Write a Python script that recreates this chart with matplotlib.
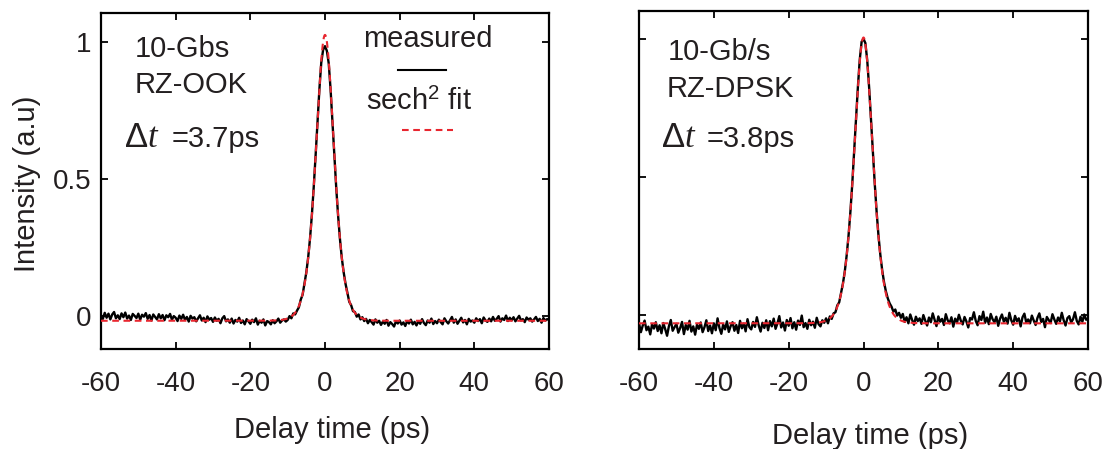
import numpy as np
import matplotlib
matplotlib.use("Agg")
import matplotlib.pyplot as plt
from matplotlib.lines import Line2D

plt.rcParams["font.family"] = ["Liberation Sans", "DejaVu Sans"]
plt.rcParams["mathtext.fontset"] = "custom"
plt.rcParams["mathtext.rm"] = "Liberation Sans"
plt.rcParams["mathtext.it"] = "Liberation Serif:italic"
plt.rcParams["mathtext.bf"] = "Liberation Sans:bold"
plt.rcParams["axes.unicode_minus"] = False

# ---------------------------------------------------------------- data
# autocorrelation traces sampled every 0.5 ps from -60 ps to 60 ps
delay_ps = np.arange(-60.0, 60.25, 0.5)

ook_measured = [
    0.004, -0.010, 0.012, -0.006, 0.009, -0.012, 0.006, 0.015, -0.008, 0.003,
    -0.011, 0.010, -0.004, 0.013, -0.009, 0.002, -0.014, 0.008, 0.001, -0.007,
    0.009, -0.013, 0.005, -0.002, 0.011, -0.010, 0.004, -0.016, 0.006, -0.003,
    -0.012, 0.007, -0.008, 0.004, -0.015, 0.003, -0.004, 0.008, -0.013, 0.000,
    -0.006, -0.018, 0.002, -0.010, 0.005, -0.014, -0.003, -0.020, 0.001, -0.009,
    -0.004, -0.019, -0.008, 0.003, -0.016, -0.006, -0.022, -0.001, -0.013, -0.007,
    -0.021, -0.005, -0.017, -0.010, -0.026, -0.008, 0.000, -0.019, -0.012, -0.024,
    -0.009, -0.027, -0.014, -0.020, -0.006, -0.025, -0.016, -0.030, -0.011, -0.019,
    -0.028, -0.013, -0.022, -0.008, -0.031, -0.017, -0.024, -0.012, -0.034, -0.018,
    -0.022, -0.030, -0.015, -0.026, -0.019, -0.009, -0.024, -0.016, -0.012, -0.020,
    -0.014, 0.000, -0.008, 0.010, 0.006, 0.020, 0.032, 0.060, 0.078, 0.118,
    0.160, 0.215, 0.285, 0.372, 0.475, 0.590, 0.712, 0.828, 0.925, 0.972,
    0.985, 0.968, 0.922, 0.826, 0.708, 0.586, 0.470, 0.368, 0.282, 0.212,
    0.160, 0.118, 0.084, 0.052, 0.040, 0.018, 0.015, -0.002, 0.006, -0.012,
    -0.004, -0.018, -0.010, -0.026, -0.014, -0.022, -0.031, -0.012, -0.024, -0.017,
    -0.032, -0.020, -0.028, -0.014, -0.035, -0.022, -0.029, -0.038, -0.019, -0.027,
    -0.016, -0.031, -0.023, -0.036, -0.018, -0.027, -0.013, -0.030, -0.021, -0.034,
    -0.019, -0.028, -0.011, -0.025, -0.033, -0.016, -0.024, -0.009, -0.029, -0.018,
    -0.026, -0.013, -0.022, -0.030, -0.008, -0.019, -0.027, -0.015, -0.003, -0.024,
    -0.012, -0.028, -0.017, -0.006, -0.023, -0.014, -0.030, -0.010, -0.020, -0.016,
    -0.024, -0.008, -0.018, -0.011, -0.026, -0.005, -0.016, -0.021, -0.009, -0.019,
    -0.003, -0.017, -0.010, 0.000, -0.020, -0.008, -0.014, 0.002, -0.018, -0.006,
    -0.015, -0.004, -0.019, -0.009, 0.001, -0.016, -0.011, -0.022, -0.005, -0.013,
    -0.008, -0.020, -0.012, -0.003, -0.018, -0.010, -0.024, -0.007, -0.016, -0.011,
    -0.014,
]

dpsk_measured = [
    -0.030, -0.062, -0.038, -0.020, -0.055, -0.042, -0.070, -0.033, -0.049, -0.026,
    -0.058, -0.037, -0.066, -0.029, -0.051, -0.075, -0.040, -0.018, -0.057, -0.044,
    -0.032, -0.064, -0.047, -0.025, -0.069, -0.036, -0.053, -0.021, -0.060, -0.041,
    -0.071, -0.035, -0.050, -0.027, -0.062, -0.044, -0.019, -0.058, -0.038, -0.066,
    -0.030, -0.055, -0.012, -0.047, -0.068, -0.034, -0.052, -0.023, -0.061, -0.040,
    -0.026, -0.057, -0.036, -0.065, -0.021, -0.048, -0.031, -0.059, -0.015, -0.044,
    -0.052, -0.025, -0.043, -0.008, -0.038, -0.060, -0.028, -0.047, -0.019, -0.055,
    -0.022, -0.041, -0.013, -0.050, -0.030, -0.004, -0.045, -0.027, -0.056, -0.018,
    -0.039, -0.011, -0.048, -0.026, -0.053, -0.020, -0.036, -0.002, -0.044, -0.029,
    -0.050, -0.017, -0.037, -0.024, -0.046, -0.010, -0.033, -0.041, -0.019, -0.028,
    -0.012, -0.030, -0.005, -0.014, 0.006, 0.010, 0.035, 0.046, 0.080, 0.114,
    0.158, 0.216, 0.287, 0.374, 0.476, 0.590, 0.710, 0.826, 0.925, 0.990,
    1.000, 0.985, 0.922, 0.825, 0.708, 0.590, 0.477, 0.375, 0.288, 0.218,
    0.162, 0.118, 0.085, 0.060, 0.042, 0.030, 0.012, 0.020, -0.002, 0.008,
    -0.010, 0.004, -0.025, -0.008, -0.030, 0.002, -0.018, -0.035, -0.006, -0.022,
    -0.012, -0.032, 0.000, -0.020, -0.038, -0.009, -0.026, 0.006, -0.017, -0.040,
    -0.005, -0.024, -0.014, -0.036, 0.003, -0.019, -0.030, -0.008, -0.042, -0.013,
    -0.027, 0.001, -0.020, -0.034, -0.007, -0.023, -0.045, -0.011, -0.016, 0.010,
    -0.021, -0.037, -0.004, -0.018, 0.012, -0.028, -0.009, -0.033, 0.004, -0.015,
    -0.026, -0.006, -0.039, -0.013, 0.002, -0.024, -0.010, -0.031, 0.008, -0.019,
    -0.035, -0.003, -0.022, -0.012, -0.041, -0.008, 0.005, -0.027, -0.016, -0.030,
    -0.002, -0.020, -0.036, -0.010, 0.006, -0.025, -0.014, -0.044, -0.007, -0.018,
    -0.029, 0.003, -0.016, -0.032, -0.009, -0.023, 0.008, -0.019, -0.038, -0.011,
    -0.004, -0.027, -0.015, 0.010, -0.021, -0.034, -0.006, -0.024, 0.002, -0.017,
    -0.012,
]

format_lines = [("10-Gbs", "RZ-OOK"), ("10-Gb/s", "RZ-DPSK")]
pulse_width_ps = [3.7, 3.8]          # deconvolved pulse width
fit_amplitude = [1.043, 1.035]
fit_offset = [-0.017, -0.030]

x_ticks = [-60, -40, -20, 0, 20, 40, 60]
y_ticks = [0, 0.5, 1]
y_tick_labels = ["0", "0.5", "1"]

# --------------------------------------------------------------- model
SECH2_AC_RATIO = 1.543               # autocorrelation FWHM / pulse FWHM
SECH2_FWHM = 2 * np.arccosh(np.sqrt(2.0))


def sech2_fit(t, width, amp, offset):
    tau_ac = SECH2_AC_RATIO * width
    return amp / np.cosh(SECH2_FWHM * t / tau_ac) ** 2 + offset


# -------------------------------------------------------------- figure
W, H = 1103, 449
fig = plt.figure(figsize=(W / 100, H / 100), dpi=100)
TXT = "#231f20"
RED = "#e8262f"


def fx(x):
    return x / W


def fy(y):
    return 1 - y / H


ax_l = fig.add_axes([fx(101), fy(349), 448 / W, 336 / H])
ax_r = fig.add_axes([fx(639), fy(349), 449 / W, 338 / H])

t_fine = np.linspace(-60, 60, 2401)
panels = [
    (ax_l, ook_measured, (-0.120, 1.106)),
    (ax_r, dpsk_measured, (-0.123, 1.101)),
]

for i, (ax, meas, ylim) in enumerate(panels):
    ax.plot(delay_ps, meas, color="black", lw=1.7, zorder=2)
    ax.plot(t_fine, sech2_fit(t_fine, pulse_width_ps[i], fit_amplitude[i],
                              fit_offset[i]),
            color=RED, lw=1.5, ls=(0, (3.2, 2.2)), zorder=3)
    ax.set_xlim(-60, 60)
    ax.set_ylim(*ylim)
    ax.set_xticks(x_ticks)
    ax.set_yticks(y_ticks)
    ax.tick_params(direction="in", top=True, right=True, length=5,
                   width=1.3, colors="black", labelcolor=TXT, labelsize=20)
    ax.tick_params(axis="x", pad=16)
    ax.tick_params(axis="y", pad=7)
    for sp in ax.spines.values():
        sp.set_linewidth(1.6)

ax_l.set_yticklabels(y_tick_labels)
ax_r.set_yticklabels([])

# annotations inside each panel
text_kw = dict(fontsize=21, color=TXT, ha="left", va="baseline")
fig.text(fx(135), fy(57), format_lines[0][0], **text_kw)
fig.text(fx(135), fy(93), format_lines[0][1], **text_kw)
fig.text(fx(668), fy(60), format_lines[1][0], **text_kw)
fig.text(fx(667), fy(97), format_lines[1][1], **text_kw)
for x_sym, x_val, width in [(124, 172, pulse_width_ps[0]),
                            (661, 707, pulse_width_ps[1])]:
    fig.text(fx(x_sym), fy(147), r"$\Delta t$", fontsize=25, color=TXT,
             ha="left", va="baseline")
    fig.text(fx(x_val), fy(147), "=%.1fps" % width, **text_kw)

# hand-drawn key
fig.text(fx(428), fy(47), "measured", fontsize=21, color=TXT,
         ha="center", va="baseline")
fig.add_artist(Line2D([fx(398), fx(446)], [fy(70), fy(70)],
                      transform=fig.transFigure, color="black", lw=1.5))
fig.text(fx(419), fy(110), r"sech$^2$ fit", fontsize=21, color=TXT,
         ha="center", va="baseline")
fig.add_artist(Line2D([fx(402), fx(453)], [fy(130), fy(130)],
                      transform=fig.transFigure, color=RED, lw=1.5,
                      ls=(0, (3.2, 2.2))))

# axis titles
fig.text(fx(332), fy(430), "Delay time (ps)", fontsize=21, color=TXT,
         ha="center", va="center")
fig.text(fx(870), fy(436), "Delay time (ps)", fontsize=21, color=TXT,
         ha="center", va="center")
fig.text(fx(27), fy(184), "Intensity (a.u)", fontsize=21, color=TXT,
         ha="center", va="center", rotation=90)

fig.savefig("out.png", dpi=100)
